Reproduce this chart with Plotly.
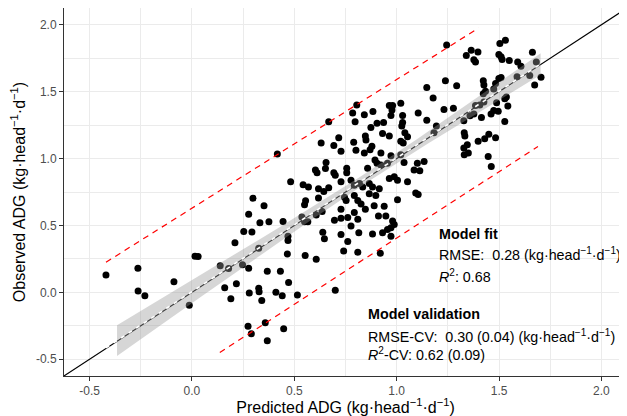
import numpy as np
import plotly.graph_objects as go

# ---- data ----
predicted = [
    -0.42, -0.264, -0.263, -0.23, -0.088, -0.013, 0.015, 0.03, 0.138, 0.179,
    0.16, 0.19, 0.217, 0.21, 0.253, 0.247,
    0.277, 0.277, 0.28, 0.274, 0.293, 0.29, 0.358, 0.368, 0.326, 0.328,
    0.341, 0.368, 0.432, 0.441, 0.41, 0.448, 0.472, 0.466, 0.469, 0.469,
    0.445, 0.515, 0.553, 0.607, 0.332, 0.376, 0.352, 0.298, 0.326, 0.537,
    0.55, 0.566, 0.607, 0.636, 0.696, 0.728, 0.639, 0.647, 0.728, 0.741,
    0.7, 0.417, 0.631, 0.693, 0.717, 0.728, 0.482, 0.603, 0.611, 0.655,
    0.652, 0.693, 0.700, 0.728, 0.543, 0.569, 0.618, 0.644, 0.668, 0.618,
    0.555, 0.55, 0.668,
    1.147, 1.178, 1.147, 1.105, 1.194, 0.805, 0.785, 0.797, 0.842, 0.884,
    0.964, 0.98, 0.977, 1.02, 0.972, 1.029, 0.936, 0.904, 0.874, 1.029,
    1.025, 1.04, 1.053, 0.931, 0.964, 0.847, 0.85, 0.79, 1.02, 1.032,
    0.801, 0.842, 0.87, 0.879, 0.923, 0.972, 1.02, 0.894, 0.904, 0.756,
    0.756, 0.858, 0.923, 0.955, 1.036, 1.101, 1.134, 1.085, 1.113, 0.777,
    0.793, 0.818, 0.834, 0.866, 0.882, 0.915, 0.964, 0.988, 1.004, 1.053,
    1.093, 1.105, 0.745, 0.753, 0.793, 0.81, 0.866, 0.898, 1.004,
    0.826, 0.847, 0.89, 0.939, 0.911, 0.947, 0.728, 0.761, 0.777, 0.793,
    0.81, 0.98, 0.988, 0.972, 0.955, 0.931, 0.882, 0.972, 0.761, 0.815,
    0.81, 0.92,
    1.244, 1.34, 1.364, 1.397, 1.377, 1.385, 1.504, 1.531, 1.499, 1.51,
    1.515, 1.55, 1.591, 1.607, 1.663, 1.682, 1.705, 1.674, 1.65, 1.588,
    1.238, 1.293, 1.423, 1.426, 1.434, 1.423, 1.483, 1.499, 1.51, 1.474,
    1.528, 1.536, 1.543, 1.488, 1.426, 1.406, 1.385, 1.377, 1.358, 1.474,
    1.461, 1.496, 1.414, 1.528, 1.328, 1.277, 1.231, 1.182, 1.33, 1.333,
    1.43, 1.45, 1.483, 1.398, 1.345, 1.328, 1.33, 1.35, 1.447, 1.462,
]
observed = [
    0.13, 0.18, 0.01, -0.025, 0.08, -0.096, 0.27, 0.268, 0.198, 0.178,
    0.034, -0.048, 0.064, 0.37, 0.455, 0.206,
    0.584, 0.18, -0.005, -0.254, 0.452, -0.31, -0.228, -0.362, 0.030, 0.005,
    -0.06, 0.158, 0.158, -0.025, 0.0, -0.272, 0.073, 0.287, 0.419, 0.388,
    0.53, -0.02, 0.276, 0.248, 0.521, 0.528, 0.647, 0.704, 0.33, 0.564,
    0.528, 0.528, 0.579, 0.605, 0.538, 0.554, 0.449, 0.401, 0.432, 0.310,
    0.015, 1.034, 1.117, 1.097, 1.155, 1.054, 0.826, 0.914, 0.894, 0.970,
    0.925, 0.894, 0.876, 0.826, 0.805, 0.788, 0.775, 0.754, 0.782, 0.706,
    0.685, 0.655, 1.275,
    1.531, 1.452, 1.287, 1.341, 1.244, 1.401, 1.341, 1.275, 1.328, 1.351,
    1.397, 1.397, 1.363, 1.414, 1.321, 1.321, 1.270, 1.264, 1.232, 1.270,
    1.244, 1.193, 1.163, 1.188, 1.168, 1.168, 1.138, 1.122, 1.13, 1.117,
    1.062, 1.041, 1.066, 1.092, 1.041, 1.021, 1.028, 0.99, 0.965, 0.927,
    0.894, 0.927, 0.952, 0.965, 0.97, 0.965, 0.978, 0.914, 0.909, 0.838,
    0.80, 0.813, 0.788, 0.813, 0.788, 0.775, 0.851, 0.864, 0.838, 0.826,
    0.742, 0.731, 0.711, 0.686, 0.724, 0.686, 0.737, 0.724, 0.693,
    0.66, 0.622, 0.647, 0.643, 0.571, 0.571, 0.622, 0.559, 0.495, 0.597,
    0.546, 0.533, 0.508, 0.483, 0.47, 0.445, 0.437, 0.419, 0.381, 0.445,
    0.30, 0.292,
    1.848, 1.77, 1.81, 1.797, 1.739, 1.721, 1.86, 1.884, 1.778, 1.76,
    1.74, 1.732, 1.721, 1.689, 1.795, 1.721, 1.607, 1.549, 1.62, 1.612,
    1.582, 1.544, 1.582, 1.549, 1.503, 1.485, 1.561, 1.599, 1.605, 1.519,
    1.447, 1.46, 1.392, 1.417, 1.422, 1.401, 1.397, 1.333, 1.32, 1.359,
    1.333, 1.353, 1.307, 1.277, 1.282, 1.376, 1.366, 1.193, 1.193, 1.168,
    1.148, 1.181, 1.155, 1.13, 1.104, 1.079, 1.028, 1.041, 1.016, 0.94,
]

tick_values = [-0.5, 0.0, 0.5, 1.0, 1.5, 2.0]
tick_labels = ["-0.5", "0.0", "0.5", "1.0", "1.5", "2.0"]
minor_values = [-0.25, 0.25, 0.75, 1.25, 1.75]
axis_range = [-0.625, 2.125]

# fitted regression line and its band extent
fit_intercept = 0.005
fit_slope = 0.999
band_x_range = [-0.366, 1.703]
t_crit = 1.97

# red dashed limit lines (end points)
upper_x = [-0.42, 1.40]
upper_y = [0.225, 1.975]
lower_x = [0.136, 1.69]
lower_y = [-0.45, 1.09]

# ---- derived ----
px = np.array(predicted)
py = np.array(observed)
n = len(px)
resid = py - (fit_intercept + fit_slope * px)
s = np.sqrt(np.sum(resid ** 2) / (n - 2))
xbar = px.mean()
sxx = np.sum((px - xbar) ** 2)
bx = np.linspace(band_x_range[0], band_x_range[1], 80)
by = fit_intercept + fit_slope * bx
hw = t_crit * s * np.sqrt(1.0 / n + (bx - xbar) ** 2 / sxx)

fit_x = np.array([px.min(), px.max()])
fit_y = fit_intercept + fit_slope * fit_x

FONT = "Liberation Sans, Arial, sans-serif"
unit = "(kg·head<sup>−1</sup>·d<sup>−1</sup>)"

fig = go.Figure()
# 1:1 line
fig.add_trace(go.Scatter(x=axis_range, y=axis_range, mode="lines",
                         line=dict(color="black", width=1.1), hoverinfo="skip"))
# points
fig.add_trace(go.Scatter(x=predicted, y=observed, mode="markers",
                         marker=dict(color="black", size=7, line=dict(width=0))))
# confidence band
fig.add_trace(go.Scatter(x=np.concatenate([bx, bx[::-1]]),
                         y=np.concatenate([by + hw, (by - hw)[::-1]]),
                         fill="toself", fillcolor="rgba(153,153,153,0.4)",
                         line=dict(width=0), mode="lines", hoverinfo="skip"))
# white dashed fit line
fig.add_trace(go.Scatter(x=fit_x, y=fit_y, mode="lines",
                         line=dict(color="white", width=1.6, dash="4px,5px")))
# red dashed lines
fig.add_trace(go.Scatter(x=upper_x, y=upper_y, mode="lines",
                         line=dict(color="#FF0000", width=1.2, dash="6px,5px")))
fig.add_trace(go.Scatter(x=lower_x, y=lower_y, mode="lines",
                         line=dict(color="#FF0000", width=1.2, dash="6px,5px")))

axis_common = dict(
    range=axis_range, tickvals=tick_values, ticktext=tick_labels,
    ticks="outside", ticklen=4, tickcolor="#333333", tickwidth=1,
    tickfont=dict(family=FONT, size=12, color="#4D4D4D"),
    showgrid=True, gridcolor="#EBEBEB", gridwidth=1,
    minor=dict(tickvals=minor_values, showgrid=True, gridcolor="#EBEBEB",
               gridwidth=0.5, ticks=""),
    showline=True, linecolor="#333333", linewidth=1, mirror=True,
    zeroline=False, automargin=False,
)

# the page places the figure 8 px in from the top-left corner
fig.update_layout(
    width=619, height=408,
    margin=dict(l=56, r=0, t=0, b=40),
    plot_bgcolor="white", paper_bgcolor="white",
    showlegend=False,
    font=dict(family=FONT, color="black"),
    xaxis=dict(**axis_common,
               title=dict(text="Predicted ADG " + unit,
                          font=dict(family=FONT, size=16, color="black"),
                          standoff=0)),
    yaxis=dict(**axis_common,
               title=dict(text="Observed ADG " + unit,
                          font=dict(family=FONT, size=16, color="black"),
                          standoff=8)),
)

notes = [
    (1.198, 0.433, "<b>Model fit</b>"),
    (1.198, 0.286, "RMSE:\u00a0 0.28 " + unit),
    (1.198, 0.126, "<i>R</i><sup>2</sup>: 0.68"),
    (0.85, -0.163, "<b>Model validation</b>"),
    (0.85, -0.323, "RMSE-CV:\u00a0 0.30 (0.04) " + unit),
    (0.85, -0.462, "<i>R</i><sup>2</sup>-CV: 0.62 (0.09)"),
]
for x, y, t in notes:
    fig.add_annotation(x=x, y=y, xref="x", yref="y", text=t, showarrow=False,
                       xanchor="left", yanchor="middle",
                       font=dict(family=FONT, size=14.3, color="black"))

fig.write_html("out.html")
